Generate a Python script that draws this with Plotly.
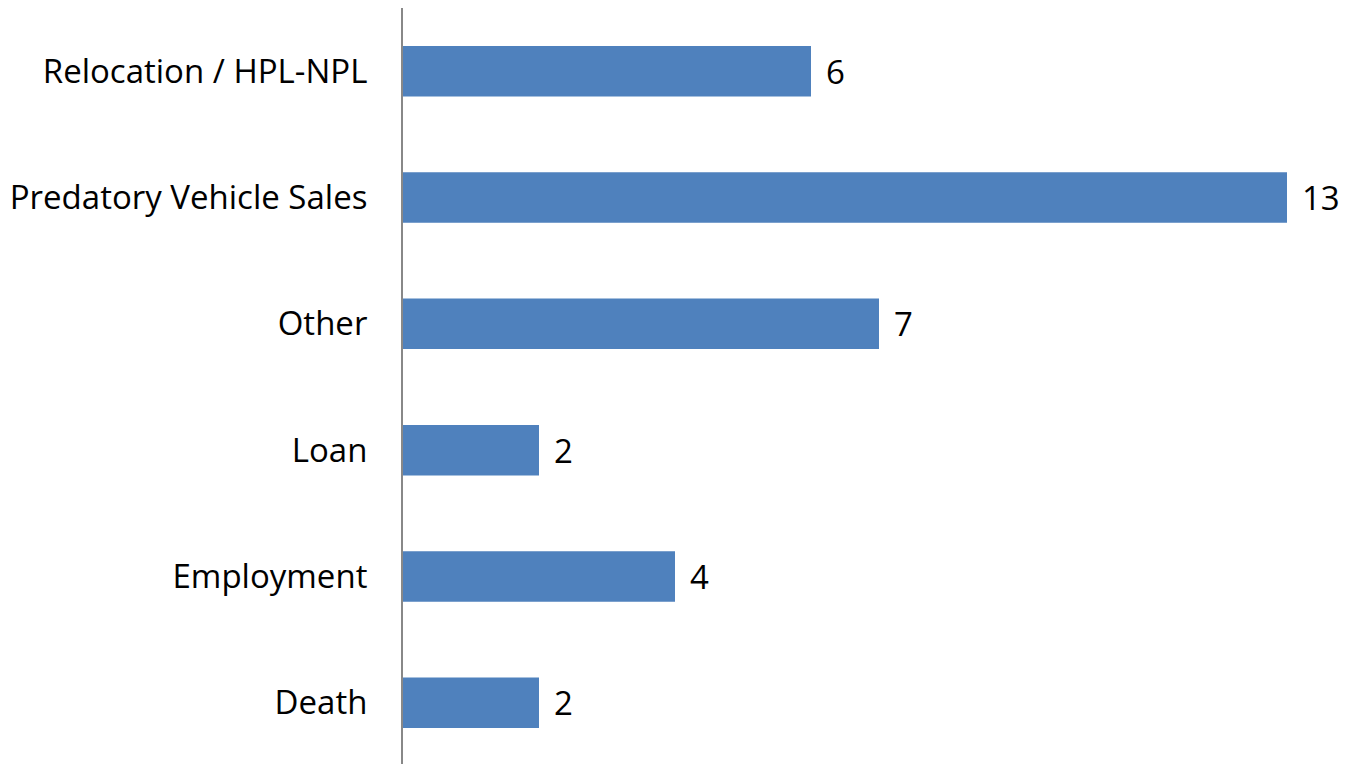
import plotly.graph_objects as go

categories = ["Relocation / HPL-NPL", "Predatory Vehicle Sales", "Other", "Loan", "Employment", "Death"]
values = [6, 13, 7, 2, 4, 2]

FONT = "Open Sans, Liberation Sans, sans-serif"

fig = go.Figure()
fig.add_trace(go.Bar(
    y=categories, x=values, orientation="h",
    marker=dict(color="#4F81BD", line=dict(width=0)),
    hoverinfo="skip",
))
for c, v in zip(categories, values):
    fig.add_annotation(x=v, y=c, text=str(v), showarrow=False, xanchor="left",
                       xshift=13, font=dict(size=33, color="#000000", family=FONT))

fig.update_layout(
    width=1353, height=764,
    margin=dict(l=395, r=6, t=0, b=6),
    paper_bgcolor="white", plot_bgcolor="white",
    bargap=0.6, showlegend=False,
    font=dict(family=FONT, size=33, color="#000000"),
)
fig.update_xaxes(range=[0, 14], visible=False, showgrid=False, zeroline=False)
fig.update_yaxes(autorange="reversed", showline=True, linecolor="#888888", linewidth=2,
                 showgrid=False, ticks="", ticklabelstandoff=27, tickfont=dict(size=33))
fig.write_html("out.html")
